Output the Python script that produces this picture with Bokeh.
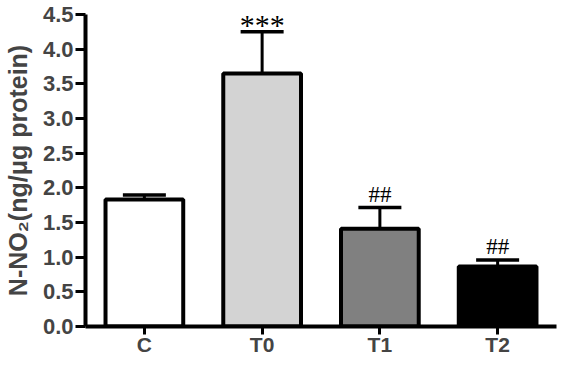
from bokeh.plotting import figure
from bokeh.models import (ColumnDataSource, FactorRange, Range1d, FixedTicker,
                          PrintfTickFormatter, Whisker, TeeHead, LabelSet)
from bokeh.embed import file_html
from bokeh.resources import INLINE

# ---- data ----
categories = ["C", "T0", "T1", "T2"]
means = [1.83, 3.65, 1.41, 0.865]
errors = [0.065, 0.60, 0.305, 0.095]
bar_colors = ["#ffffff", "#d3d3d3", "#808080", "#000000"]
y_ticks = [0.0, 0.5, 1.0, 1.5, 2.0, 2.5, 3.0, 3.5, 4.0, 4.5]
star_categories = ["T0"]
star_text = ["***"]
hash_categories = ["T1", "T2"]
hash_text = ["##", "##"]

upper = [m + e for m, e in zip(means, errors)]
src = ColumnDataSource(dict(cat=categories, mean=means, upper=upper, color=bar_colors))
star_src = ColumnDataSource(dict(cat=star_categories,
                                 y=[upper[categories.index(c)] for c in star_categories],
                                 text=star_text))
hash_src = ColumnDataSource(dict(cat=hash_categories,
                                 y=[upper[categories.index(c)] for c in hash_categories],
                                 text=hash_text))

FONT = "Liberation Sans"

p = figure(width=558, height=358, x_range=FactorRange(*categories),
           y_range=Range1d(0, 4.5), output_backend="svg", toolbar_location=None,
           min_border_left=0, min_border_right=2, min_border_top=14, min_border_bottom=29)
p.outline_line_color = None
p.xgrid.visible = False
p.ygrid.visible = False

p.vbar(x="cat", top="mean", bottom=0, width=0.66, source=src,
       fill_color="color", line_color="black", line_width=4)

wh = Whisker(base="cat", upper="upper", lower="mean", source=src,
             line_color="black", line_width=3, lower_head=None,
             upper_head=TeeHead(size=43, line_color="black", line_width=3.5))
p.add_layout(wh)

stars = LabelSet(x="cat", y="y", text="text", source=star_src, text_align="center",
                 text_baseline="alphabetic", y_offset=-3, text_font=FONT,
                 text_font_size="30px", text_color="black")
hashes = LabelSet(x="cat", y="y", text="text", source=hash_src, text_align="center",
                  text_baseline="alphabetic", y_offset=6, text_font=FONT,
                  text_font_size="23px", text_color="black")
p.add_layout(stars)
p.add_layout(hashes)

# y axis
p.yaxis.ticker = FixedTicker(ticks=y_ticks)
p.yaxis.formatter = PrintfTickFormatter(format="%.1f")
p.yaxis.axis_label = "N-NO\u2082(ng/\u03bcg protein)"
p.yaxis.axis_label_text_font = FONT
p.yaxis.axis_label_text_font_style = "bold"
p.yaxis.axis_label_text_font_size = "25px"
p.yaxis.axis_label_standoff = 8
p.yaxis.major_label_text_font = FONT
p.yaxis.major_label_text_font_style = "bold"
p.yaxis.major_label_text_font_size = "22px"
p.yaxis.major_label_standoff = 2
p.yaxis.minor_tick_line_color = None
p.yaxis.major_tick_in = 0
p.yaxis.major_tick_out = 10
p.yaxis.major_tick_line_width = 3
p.yaxis.axis_line_width = 4

# x axis
p.xaxis.major_label_text_font = FONT
p.xaxis.major_label_text_font_style = "bold"
p.xaxis.major_label_text_font_size = "21px"
p.xaxis.major_label_standoff = -2
p.xaxis.major_tick_in = 0
p.xaxis.major_tick_out = 8
p.xaxis.major_tick_line_width = 3
p.xaxis.axis_line_width = 4

open("out.html", "w").write(file_html(p, INLINE))
